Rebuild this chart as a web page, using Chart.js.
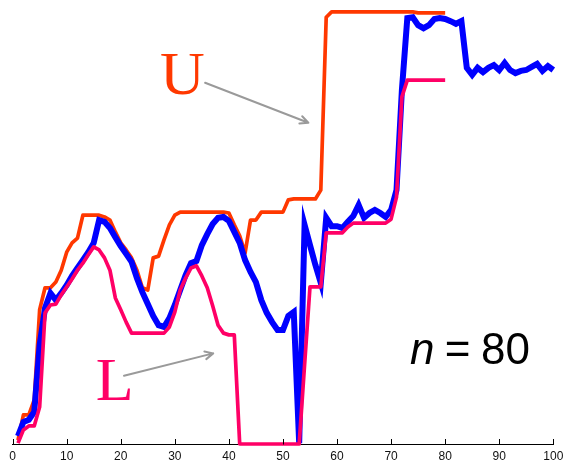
<!DOCTYPE html>
<html>
<head>
<meta charset="utf-8">
<script src="https://cdn.jsdelivr.net/npm/chart.js@4.4.1/dist/chart.umd.min.js"></script>
<style>
  html, body { margin: 0; padding: 0; background: #ffffff; }
  #wrap { width: 563px; height: 463px; }
  canvas { display: block; }
</style>
</head>
<body>
<div id="wrap"><canvas id="chart" width="563" height="463"></canvas></div>
<script>
// x-axis tick labels
const xTicks = [0, 10, 20, 30, 40, 50, 60, 70, 80, 90, 100];

// observed series, one value per step (steps 1..100)
const observed = [
  0.018, 0.050, 0.055, 0.073, 0.225, 0.309, 0.343, 0.327, 0.343, 0.361,
  0.382, 0.400, 0.418, 0.436, 0.457, 0.509, 0.505, 0.491, 0.470, 0.450,
  0.432, 0.414, 0.377, 0.345, 0.318, 0.291, 0.270, 0.266, 0.286, 0.316,
  0.350, 0.384, 0.411, 0.416, 0.452, 0.477, 0.500, 0.514, 0.516, 0.507,
  0.482, 0.457, 0.418, 0.391, 0.368, 0.327, 0.298, 0.277, 0.259, 0.259,
  0.291, 0.300, 0.002, 0.498, 0.452, 0.407, 0.366, 0.514, 0.495, 0.495,
  0.491, 0.505, 0.518, 0.543, 0.514, 0.525, 0.532, 0.525, 0.516, 0.532,
  0.577, 0.805, 0.968, 0.970, 0.952, 0.945, 0.952, 0.966, 0.968, 0.966,
  0.961, 0.955, 0.961, 0.855, 0.839, 0.855, 0.845, 0.855, 0.861, 0.850,
  0.866, 0.850, 0.843, 0.848, 0.850, 0.857, 0.864, 0.848, 0.859, 0.850
];

// upper bound U (steps 1..80)
const upperBound = [
  0.009, 0.066, 0.066, 0.100, 0.305, 0.355, 0.355, 0.368, 0.395, 0.436,
  0.457, 0.468, 0.520, 0.520, 0.520, 0.520, 0.516, 0.509, 0.482, 0.457,
  0.441, 0.423, 0.395, 0.355, 0.350, 0.423, 0.427, 0.464, 0.498, 0.520,
  0.527, 0.527, 0.527, 0.527, 0.527, 0.527, 0.527, 0.527, 0.527, 0.525,
  0.498, 0.473, 0.434, 0.509, 0.509, 0.527, 0.527, 0.527, 0.527, 0.527,
  0.555, 0.557, 0.557, 0.557, 0.557, 0.557, 0.577, 0.970, 0.982, 0.982,
  0.982, 0.982, 0.982, 0.982, 0.982, 0.982, 0.982, 0.982, 0.982, 0.982,
  0.982, 0.982, 0.982, 0.982, 0.980, 0.980, 0.980, 0.980, 0.980, 0.980
];

// lower bound L (steps 1..80)
const lowerBound = [
  0.002, 0.032, 0.041, 0.041, 0.084, 0.298, 0.316, 0.318, 0.339, 0.357,
  0.375, 0.395, 0.411, 0.430, 0.448, 0.441, 0.423, 0.395, 0.332, 0.305,
  0.277, 0.252, 0.252, 0.252, 0.252, 0.252, 0.252, 0.252, 0.266, 0.300,
  0.350, 0.377, 0.400, 0.405, 0.382, 0.355, 0.314, 0.270, 0.252, 0.248,
  0.248, 0.000, 0.000, 0.000, 0.000, 0.000, 0.000, 0.000, 0.000, 0.000,
  0.000, 0.000, 0.000, 0.180, 0.357, 0.357, 0.357, 0.480, 0.480, 0.480,
  0.480, 0.493, 0.502, 0.502, 0.502, 0.502, 0.502, 0.502, 0.502, 0.511,
  0.561, 0.789, 0.827, 0.827, 0.827, 0.827, 0.827, 0.827, 0.827, 0.827
];

const sampleSize = 80;

const BLUE = '#0000ff';
const ORANGE = '#ff3800';
const PINK = '#ff0066';
const ARROW = '#9a9a9a';

const toPoints = arr => arr.map((v, i) => ({ x: i + 1, y: v }));

// labels, arrows and tick marks placed in data coordinates
const notes = {
  upper: { text: 'U', x: 31.4, y: 0.795, color: ORANGE, from: [35.6, 0.821], to: [54.7, 0.730] },
  lower: { text: 'L', x: 18.9, y: 0.099, color: PINK, from: [20.6, 0.155], to: [37.1, 0.206] },
  count: { nX: 73.5, eqX: 82.3, numRightX: 95.7, y: 0.181 }
};

function arrow(ctx, x1, y1, x2, y2) {
  const ang = Math.atan2(y2 - y1, x2 - x1);
  const head = 9, spread = 0.45;
  ctx.beginPath();
  ctx.moveTo(x1, y1);
  ctx.lineTo(x2, y2);
  ctx.moveTo(x2 - head * Math.cos(ang - spread), y2 - head * Math.sin(ang - spread));
  ctx.lineTo(x2, y2);
  ctx.lineTo(x2 - head * Math.cos(ang + spread), y2 - head * Math.sin(ang + spread));
  ctx.stroke();
}

const decorations = {
  id: 'decorations',
  afterDraw(chart) {
    const ctx = chart.ctx;
    const xs = chart.scales.x, ys = chart.scales.y;
    const bottom = chart.chartArea.bottom;
    ctx.save();

    // inward tick marks on the x axis
    ctx.strokeStyle = '#000';
    ctx.lineWidth = 1;
    ctx.beginPath();
    xTicks.forEach(t => {
      const px = Math.round(xs.getPixelForValue(t)) + 0.5;
      ctx.moveTo(px, Math.round(bottom) + 0.5);
      ctx.lineTo(px, Math.round(bottom) - 5);
    });
    ctx.stroke();

    // bound labels with pointer arrows
    [notes.upper, notes.lower].forEach(n => {
      ctx.fillStyle = n.color;
      ctx.font = '62px "Liberation Serif", "Times New Roman", serif';
      ctx.textAlign = 'center';
      ctx.textBaseline = 'alphabetic';
      ctx.fillText(n.text, xs.getPixelForValue(n.x), ys.getPixelForValue(n.y));
      ctx.strokeStyle = ARROW;
      ctx.lineWidth = 2;
      ctx.lineCap = 'round';
      ctx.lineJoin = 'round';
      arrow(ctx,
        xs.getPixelForValue(n.from[0]), ys.getPixelForValue(n.from[1]),
        xs.getPixelForValue(n.to[0]), ys.getPixelForValue(n.to[1]));
    });

    // sample size label
    const c = notes.count;
    const by = ys.getPixelForValue(c.y);
    ctx.fillStyle = '#000';
    ctx.textBaseline = 'alphabetic';
    ctx.font = 'italic 44px "Liberation Sans", Arial, sans-serif';
    ctx.textAlign = 'left';
    ctx.fillText('n', xs.getPixelForValue(c.nX), by);
    ctx.font = '44px "Liberation Sans", Arial, sans-serif';
    ctx.textAlign = 'center';
    ctx.fillText('=', xs.getPixelForValue(c.eqX), by);
    ctx.textAlign = 'right';
    ctx.fillText(String(sampleSize), xs.getPixelForValue(c.numRightX), by);

    ctx.restore();
  }
};

new Chart(document.getElementById('chart'), {
  type: 'line',
  data: {
    datasets: [
      { label: 'L', data: toPoints(lowerBound), borderColor: PINK, borderWidth: 3.7, borderJoinStyle: 'round', order: 0 },
      { label: 'observed', data: toPoints(observed), borderColor: BLUE, borderWidth: 6, order: 1 },
      { label: 'U', data: toPoints(upperBound), borderColor: ORANGE, borderWidth: 3.7, borderJoinStyle: 'round', order: 2 }
    ]
  },
  options: {
    responsive: false,
    devicePixelRatio: 1,
    animation: false,
    elements: {
      point: { radius: 0, hoverRadius: 0 },
      line: { tension: 0, fill: false }
    },
    datasets: { line: { clip: false } },
    layout: { padding: { left: 12.6, right: 9.7, top: 4, bottom: 0 } },
    plugins: { legend: { display: false }, tooltip: { enabled: false } },
    events: [],
    scales: {
      x: {
        type: 'linear',
        min: 0,
        max: 100,
        afterBuildTicks(scale) { scale.ticks = xTicks.map(v => ({ value: v })); },
        afterFit(scale) { scale.height = 19; scale.paddingLeft = 0; scale.paddingRight = 0; },
        grid: { display: false, drawTicks: false },
        border: { display: true, color: '#000', width: 1 },
        ticks: {
          maxRotation: 0,
          autoSkip: false,
          padding: 5,
          color: '#111',
          font: { family: '"Liberation Sans", Arial, sans-serif', size: 12 }
        }
      },
      y: { type: 'linear', display: false, min: 0, max: 1 }
    }
  },
  plugins: [decorations]
});
</script>
</body>
</html>
